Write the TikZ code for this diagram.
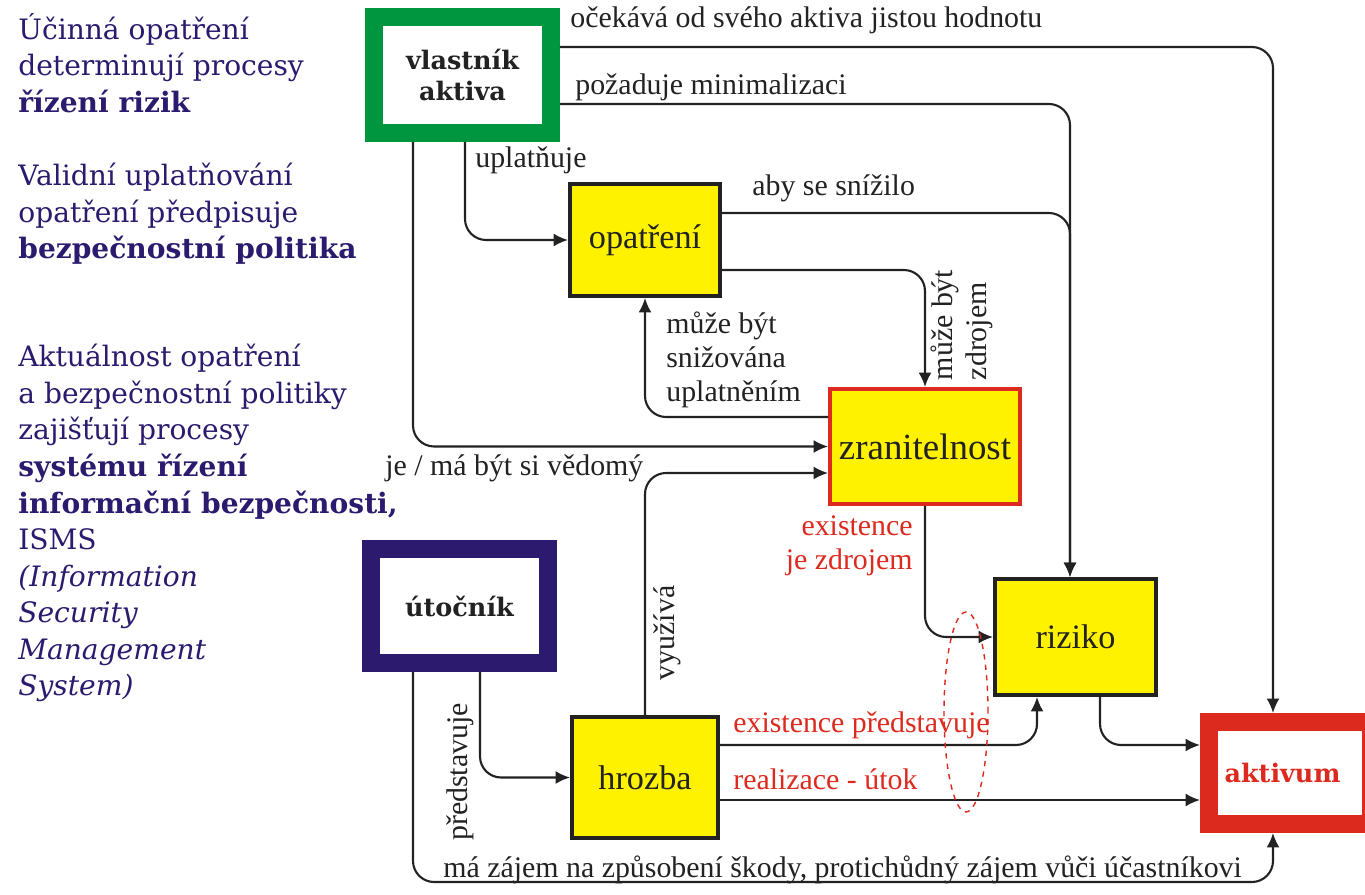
\documentclass[tikz,border=0pt]{standalone}
\usepackage{fontspec}
\setmainfont{Liberation Serif}
\newfontfamily\slab{DejaVu Serif}
\usetikzlibrary{arrows.meta}
\definecolor{Owner}{HTML}{00963F}
\definecolor{Navy}{HTML}{2B1A6E}
\definecolor{Alarm}{HTML}{DC2A1E}
\definecolor{Marker}{HTML}{FFF200}
\definecolor{Ink}{HTML}{222222}
\tikzset{
  frame/.style={fill=white,line width=10.2pt,align=center,inner sep=0pt,font=\slab\bfseries\fontsize{14.5}{17.5}\selectfont,text=Ink},
  part/.style={draw=Ink,fill=Marker,line width=2.2pt,align=center,inner sep=0pt,font=\fontsize{19.5}{22}\selectfont,text=Ink},
  arr/.style={-{Latex[length=2.9mm,width=2.6mm]},draw=Ink,line width=1.2pt,rounded corners=12pt},
  lbl/.style={inner sep=0pt,font=\fontsize{17}{19.5}\selectfont,text=Ink},
  redlbl/.style={lbl,text=Alarm},
  note/.style={inner sep=0pt,anchor=north west,align=left,text=Navy,font=\slab\fontsize{16}{20.8}\selectfont}
}
\begin{document}
\begin{tikzpicture}[x=0.02cm,y=-0.02cm]
  \useasboundingbox (0,0) rectangle (1365,895);
  % left column
  \node[note] (ucinna) at (18,13) {Účinná opatření\\determinují procesy\\\textbf{řízení rizik}};
  \node[note] (validni) at (18,163) {Validní uplatňování\\opatření předpisuje\\\textbf{bezpečnostní politika}};
  \node[note] (aktualnost) at (18,344) {Aktuálnost opatření\\a bezpečnostní politiky\\zajišťují procesy\\\textbf{systému řízení}\\\textbf{informační bezpečnosti,}\\ISMS\\\textit{(Information}\\\textit{Security}\\\textit{Management}\\\textit{System)}};
  % actors and parts
  \node[frame,draw=Owner,minimum width=3.54cm,minimum height=2.32cm] (vlastnik) at (462.5,75) {vlastník\\aktiva};
  \node[frame,draw=Navy,minimum width=3.54cm,minimum height=2.28cm] (utocnik) at (459.5,606) {útočník};
  \node[frame,draw=Alarm,text=Alarm,minimum width=3.24cm,minimum height=2.04cm] (aktivum) at (1290,773) {\hspace*{-0.3cm}aktivum};
  \node[part,minimum width=3.0cm,minimum height=2.24cm] (opatreni) at (645,240) {opatření};
  \node[part,draw=Alarm,minimum width=3.8cm,minimum height=2.3cm,font=\fontsize{21}{24}\selectfont] (zranitelnost) at (925,446.5) {zranitelnost};
  \node[part,minimum width=3.22cm,minimum height=2.32cm] (riziko) at (1075.5,637) {riziko};
  \node[part,minimum width=2.92cm,minimum height=2.42cm] (hrozba) at (645,777.5) {hrozba};
  \coordinate (dno) at (1273,882);
  % connectors
  \draw[arr] (vlastnik.east |- 0,47) -| (aktivum.north -| 1273,0);
  \draw[arr] (vlastnik.east |- 0,104) -| (riziko.north -| 1070,0);
  \draw[arr] (opatreni.east |- 0,213) -| (riziko.north -| 1070,0);
  \draw[arr] (vlastnik.south -| 465,0) |- (opatreni.west);
  \draw[arr] (vlastnik.south -| 413,0) |- (zranitelnost.west);
  \draw[arr] (opatreni.east |- 0,270) -| (zranitelnost.north);
  \draw[arr] (zranitelnost.west |- 0,417) -| (opatreni.south);
  \draw[arr] (zranitelnost.south) |- (riziko.west);
  \draw[arr] (hrozba.north) |- (zranitelnost.west |- 0,473);
  \draw[arr] (hrozba.east |- 0,745) -| (riziko.south -| 1037,0);
  \draw[arr] (hrozba.east |- 0,800) -- (aktivum.west |- 0,800);
  \draw[arr] (riziko.south -| 1100,0) |- (aktivum.west |- 0,745);
  \draw[arr] (utocnik.south -| 480,0) |- (hrozba.west);
  \draw[arr] (utocnik.south -| 413,0) |- (dno) -- (aktivum.south -| dno);
  % connector labels
  \node[lbl,anchor=west] (ocekava) at (570,20) {očekává od svého aktiva jistou hodnotu};
  \node[lbl,anchor=west] (pozaduje) at (575,87) {požaduje minimalizaci};
  \node[lbl,anchor=west] (uplatnuje) at (475,160) {uplatňuje};
  \node[lbl,anchor=west] (snizilo) at (752,188) {aby se snížilo};
  \node[lbl,rotate=90,align=left] (zdrojem) at (962,325) {může být\\zdrojem};
  \node[lbl,anchor=west,align=left] (snizovana) at (666,360) {může být\\snižována\\uplatněním};
  \node[lbl,anchor=west] (vedomy) at (385,468) {je / má být si vědomý};
  \node[redlbl,anchor=east,align=right] (existence) at (913,546) {existence\\je zdrojem};
  \node[lbl,rotate=90] (vyuziva) at (667,633) {využívá};
  \node[lbl,rotate=90] (predstavuje) at (460,772) {představuje};
  \node[redlbl,anchor=west] (hrozbaexist) at (733,725) {existence představuje};
  \node[redlbl,anchor=west] (realizace) at (733,779) {realizace - útok};
  \node[lbl,anchor=west] (zajem) at (443,870) {má zájem na způsobení škody, protichůdný zájem vůči účastníkovi};
  % highlighted crossing
  \draw[Alarm,dashed,line width=0.8pt] (966,712) ellipse [x radius=0.44cm,y radius=2cm];
\end{tikzpicture}
\end{document}
